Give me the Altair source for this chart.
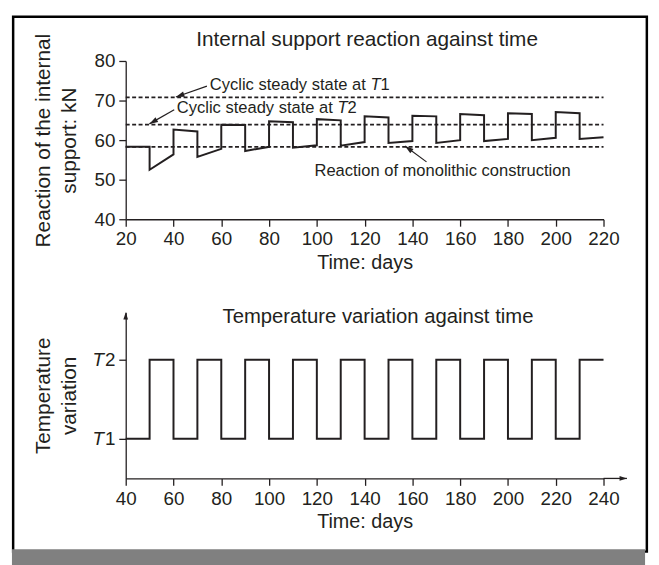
import math
import altair as alt
import pandas as pd

FONT = "Liberation Sans"
INK = "#231f20"

# ---------------- data: internal support reaction (top panel) ----------------
react_days = [20, 30, 30, 40, 40, 50, 50, 60, 60, 70, 70, 80, 80, 90, 90, 100, 100, 110, 110, 120,
              120, 130, 130, 140, 140, 150, 150, 160, 160, 170, 170, 180, 180, 190, 190, 200, 200, 210, 210, 220]
react_kn = [58.3, 58.3, 52.5, 56.4, 62.65, 62.2, 55.75, 57.8, 63.9, 63.8, 57.25, 58.3, 64.75, 64.5, 58.1, 58.7,
            65.3, 65.0, 58.6, 59.5, 66.0, 65.7, 59.3, 59.75, 66.15, 66.0, 59.3, 60.0, 66.6, 66.3, 59.75, 60.3,
            66.8, 66.6, 60.0, 60.6, 67.1, 66.8, 60.3, 60.75]

ref_kn = [70.8, 63.9, 58.3]          # cyclic steady state T1, T2, monolithic
top_x_range = [20, 220]
top_y_range = [40, 80]
top_x_ticks = [20, 40, 60, 80, 100, 120, 140, 160, 180, 200, 220]
top_y_ticks = [40, 50, 60, 70, 80]

ann_main = ["Cyclic steady state at", "Cyclic steady state at", "Reaction of monolithic construction"]
ann_sub = ["1", "2", ""]
ann_day = [55.2, 41.4, 99.0]
ann_kn = [73.9, 68.1, 52.25]
tail_day = [54.0, 40.3, 145.9]
tail_kn = [73.65, 67.65, 54.5]
head_day = [41.0, 29.9, 136.9]
head_kn = [70.9, 64.1, 58.5]

# ---------------- data: temperature variation (bottom panel) ----------------
temp_days = [40, 50, 60, 70, 80, 90, 100, 110, 120, 130, 140, 150, 160, 170, 180, 190, 200, 210, 220, 230, 240]
temp_level = [1, 2, 1, 2, 1, 2, 1, 2, 1, 2, 1, 2, 1, 2, 1, 2, 1, 2, 1, 2, 2]
bot_x_range = [40, 240]
bot_y_range = [0.5, 2.6]
bot_x_ticks = [40, 60, 80, 100, 120, 140, 160, 180, 200, 220, 240]
temp_ticks = [1, 2]
x_arrow_end = 249.8

title_top = "Internal support reaction against time"
title_bot = "Temperature variation against time"

W = 483
H_TOP = 160
H_BOT = 168

ARROW = "M0,0L0.32,1L-0.32,1Z"


def heading(hx, hy, tx, ty, pxx, pxy):
    dx = (hx - tx) * pxx
    dy = -(hy - ty) * pxy
    return (math.degrees(math.atan2(dx, -dy)) + 360) % 360


axis_common = dict(
    domainColor=INK, domainWidth=1.3, tickColor=INK, tickWidth=1.3, tickSize=7,
    labelFont=FONT, labelFontSize=19, labelColor=INK, labelPadding=4,
    titleFont=FONT, titleFontWeight="normal", titleColor=INK,
    grid=False, labelFlush=False, labelOverlap=False,
)

# ---------------- top panel ----------------
xs_top = alt.Scale(domain=top_x_range, nice=False, zero=False)
ys_top = alt.Scale(domain=top_y_range, nice=False, zero=False)
xa_top = alt.Axis(values=top_x_ticks, title="Time: days", titleFontSize=20, titlePadding=4, **axis_common)
ya_top = alt.Axis(values=top_y_ticks, title=["Reaction of the internal", "support: kN"],
                  titleFontSize=21, titleLineHeight=25.6, titlePadding=15, **axis_common)


def XT(f):
    return alt.X(f, scale=xs_top, axis=xa_top)


def YT(f):
    return alt.Y(f, scale=ys_top, axis=ya_top)


react_df = pd.DataFrame({"day": react_days, "kn": react_kn, "i": list(range(len(react_days)))})
ref_df = pd.DataFrame({"kn": ref_kn, "start": [top_x_range[0]] * 3, "end": [top_x_range[1]] * 3})
pxx_t = W / (top_x_range[1] - top_x_range[0])
pxy_t = H_TOP / (top_y_range[1] - top_y_range[0])
ann_df = pd.DataFrame({
    "main": ann_main, "sub": ann_sub, "day": ann_day, "kn": ann_kn,
    "tday": tail_day, "tkn": tail_kn, "hday": head_day, "hkn": head_kn,
    "ang": [heading(h, hk, t, tk, pxx_t, pxy_t) for h, hk, t, tk in zip(head_day, head_kn, tail_day, tail_kn)],
})
sub_df = ann_df[ann_df["sub"] != ""].assign(T="T")

line_top = alt.Chart(react_df).mark_line(color=INK, strokeWidth=2).encode(
    x=XT("day:Q"), y=YT("kn:Q"), order="i:Q")
refs = alt.Chart(ref_df).mark_rule(color=INK, strokeWidth=1.8, strokeDash=[4, 2.5]).encode(
    x=XT("start:Q"), x2="end:Q", y=YT("kn:Q"))
arrows = alt.Chart(ann_df).mark_rule(color=INK, strokeWidth=1.2).encode(
    x=XT("tday:Q"), x2="hday:Q", y=YT("tkn:Q"), y2="hkn:Q")
heads = alt.Chart(ann_df).mark_point(shape=ARROW, filled=True, size=300, color=INK, opacity=1, strokeWidth=0).encode(
    x=XT("hday:Q"), y=YT("hkn:Q"), angle=alt.Angle("ang:Q", scale=None))
txt_kw = dict(font=FONT, fontSize=16.7, color=INK, align="left", baseline="middle")
ann_txt = alt.Chart(ann_df).mark_text(**txt_kw).encode(x=XT("day:Q"), y=YT("kn:Q"), text="main:N")
ann_T = alt.Chart(sub_df).mark_text(dx=162.4, fontStyle="italic", **txt_kw).encode(
    x=XT("day:Q"), y=YT("kn:Q"), text="T:N")
ann_n = alt.Chart(sub_df).mark_text(dx=172.6, **txt_kw).encode(x=XT("day:Q"), y=YT("kn:Q"), text="sub:N")
ttl_top = alt.Chart(pd.DataFrame({"t": [title_top]})).mark_text(
    font=FONT, fontSize=21, color=INK, align="center", baseline="middle").encode(
    x=alt.value(244), y=alt.value(-21.3), text="t:N")

frame = alt.Chart(pd.DataFrame({"k": [0]})).mark_rect(
    fill="white", fillOpacity=0, stroke="black", strokeWidth=2.5).encode(
    x=alt.value(-113.8), x2=alt.value(526.8), y=alt.value(-44.8), y2=alt.value(496))
band = alt.Chart(pd.DataFrame({"k": [0]})).mark_rect(fill="#808080", strokeWidth=0).encode(
    x=alt.value(-115), x2=alt.value(525), y=alt.value(493.7), y2=alt.value(510))

top = alt.layer(refs, line_top, arrows, heads, ann_txt, ann_T, ann_n, ttl_top, frame, band).properties(
    width=W, height=H_TOP)

# ---------------- bottom panel ----------------
xs_bot = alt.Scale(domain=bot_x_range, nice=False, zero=False)
ys_bot = alt.Scale(domain=bot_y_range, nice=False, zero=False)
xa_bot = alt.Axis(values=bot_x_ticks, title="Time: days", titleFontSize=20, titlePadding=4, **axis_common)
ya_bot = alt.Axis(values=temp_ticks, format="d", title=["Temperature", "variation"],
                  titleFontSize=21, titleLineHeight=25.6, titlePadding=25.5, **axis_common)


def XB(f):
    return alt.X(f, scale=xs_bot, axis=xa_bot)


def YB(f):
    return alt.Y(f, scale=ys_bot, axis=ya_bot)


temp_df = pd.DataFrame({"day": temp_days, "level": temp_level, "i": list(range(len(temp_days)))})

wave = alt.Chart(temp_df).mark_line(color=INK, strokeWidth=2, interpolate="step-after").encode(
    x=XB("day:Q"), y=YB("level:Q"), order="i:Q")
tick_T = alt.Chart(pd.DataFrame({"level": temp_ticks, "T": ["T", "T"]})).mark_text(
    font=FONT, fontSize=19, fontStyle="italic", color=INK, align="right", baseline="middle").encode(
    x=alt.value(-22), y=YB("level:Q"), text="T:N")
xarrow_df = pd.DataFrame({"x0": [bot_x_range[1]], "x1": [x_arrow_end], "y": [bot_y_range[0]]})
xarrow = alt.Chart(xarrow_df).mark_rule(color=INK, strokeWidth=1.3).encode(
    x=XB("x0:Q"), x2="x1:Q", y=YB("y:Q"))
axis_heads_df = pd.DataFrame({"x": [x_arrow_end, bot_x_range[0]], "y": [bot_y_range[0], bot_y_range[1]],
                              "ang": [90, 0]})
axis_heads = alt.Chart(axis_heads_df).mark_point(shape=ARROW, filled=True, size=220, color=INK, opacity=1,
                                                 strokeWidth=0).encode(
    x=XB("x:Q"), y=YB("y:Q"), angle=alt.Angle("ang:Q", scale=None))
ttl_bot = alt.Chart(pd.DataFrame({"t": [title_bot]})).mark_text(
    font=FONT, fontSize=20.5, color=INK, align="center", baseline="middle").encode(
    x=alt.value(255), y=alt.value(4.7), text="t:N")

bottom = alt.layer(wave, tick_T, xarrow, axis_heads, ttl_bot).properties(width=W, height=H_BOT)

chart = alt.vconcat(top, bottom, spacing=94, bounds="flush").properties(
    padding={"left": 3, "top": 3.5, "right": 2, "bottom": 0}, background="white"
).configure_view(strokeWidth=0)

chart.save("out.html", embed_options={"renderer": "svg", "actions": False})
